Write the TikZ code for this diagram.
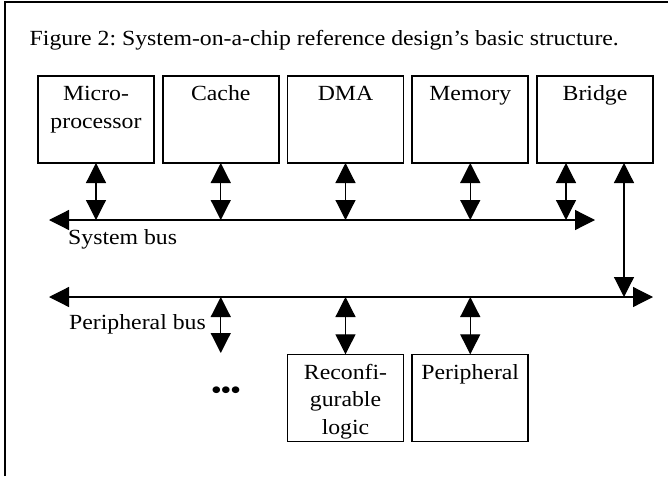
\documentclass[tikz,border=0pt]{standalone}
\usepackage{fontspec}
\setmainfont{Liberation Serif}[FakeStretch=1.1]
\usetikzlibrary{arrows.meta, positioning}
\tikzset{>={Triangle[length=20pt,width=20pt]}}
\frenchspacing
\def \boxwidth {116pt}
\def \boxheight {87pt}
\def \boxgap {8.75pt}
% text hangs from the top of the unit box
\newcommand{\unittext}[1]{\parbox[c][\boxheight][t]{\boxwidth}{\centering\rule{0pt}{25pt}#1}}

\begin{document}
\begin{tikzpicture}[x = 1pt, y = -1pt, font = \fontsize{21.6}{27.5}\selectfont,
  unit/.style = {draw, line width = 1.6pt, inner sep = 0pt, outer sep = 0pt},
  link/.style = {<->, line width = 1.2pt},
  tag/.style = {anchor = base west, inner sep = 0pt}]
\useasboundingbox (0, 0) rectangle (668, 476);

% frame, only its top and left edges
\draw[line width = 2pt] (5, 476) -- (5, 2) -- (668, 2);

\node (caption) [tag] at (29.5, 45.7) {Figure 2: System-on-a-chip reference design’s basic structure.};

% units on the system bus
\node (micro) [unit, anchor = north west] at (38, 76) {\unittext{Micro-\\processor}};
\node (cache) [unit, right = \boxgap of micro] {\unittext{Cache}};
\node (dma) [unit, right = \boxgap of cache] {\unittext{DMA}};
\node (memory) [unit, right = \boxgap of dma] {\unittext{Memory}};
\node (bridge) [unit, right = \boxgap of memory] {\unittext{Bridge}};

% units on the peripheral bus
\node (reconf) [unit, below = 191.3pt of dma] {\unittext{Reconfi-\\gurable\\logic}};
\node (periph) [unit, right = \boxgap of reconf] {\unittext{Peripheral}};
\node (dots) [inner sep = 0pt, font = \fontsize{25}{25}\selectfont\bfseries] at (226, 392.7) {•••};

% buses
\coordinate (sysL) at (49, 220);
\coordinate (sysR) at (595, 220);
\coordinate (perL) at (49, 297);
\coordinate (perR) at (653, 297);
\draw[link] (sysL) -- (sysR);
\draw[link] (perL) -- (perR);
\node (sysbus) [tag] at (68, 244) {System bus};
\node (perbus) [tag] at (69, 329) {Peripheral bus};

\draw[link] (micro.south) -- (micro.south |- sysL);
\draw[link] (cache.south) -- (cache.south |- sysL);
\draw[link] (dma.south) -- (dma.south |- sysL);
\draw[link] (memory.south) -- (memory.south |- sysL);

\coordinate (brL) at ([xshift = 29pt] bridge.south west);
\coordinate (brR) at ([xshift = -29pt] bridge.south east);
\draw[link] (brL) -- (brL |- sysL);
\draw[link] (brR) -- (brR |- perL);

\coordinate (moreend) at (220.75, 353);
\draw[link] (cache.south |- perL) -- (moreend);
\draw[link] (reconf.north |- perL) -- (reconf.north);
\draw[link] (periph.north |- perL) -- (periph.north);

\end{tikzpicture}
\end{document}
